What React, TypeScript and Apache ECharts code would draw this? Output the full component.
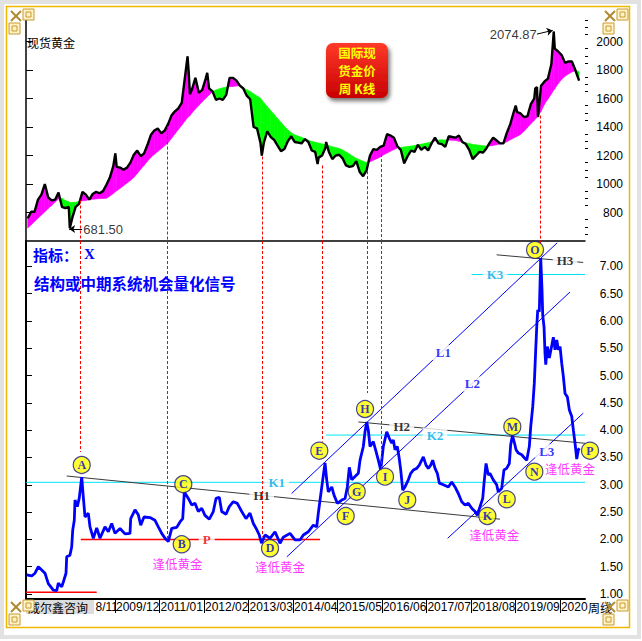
import React, { useEffect, useRef } from "react";
import * as echarts from "echarts";

// x positions are months since 2007-10-01 (weekly chart, 2007/10 .. 2021/03)
const priceMonth = [0.5,1.5,2.5,3.5,4.5,5.5,6.5,7.5,8.5,9.5,10.5,11.5,12.5,12.8,13.5,14.5,15.5,16.5,17.5,18.5,19.5,20.5,21.5,22.5,23.5,24.5,25.5,26.1,26.5,27.5,28.5,29.5,30.5,31.5,32.5,33.5,34.5,35.5,36.5,37.5,38.5,39.5,40.5,41.5,42.5,43.5,44.5,45.5,46.5,47.2,47.5,47.9,48.5,49.5,50.5,51.5,52.5,52.95,53.5,54.5,55.5,56.5,57.5,58.5,59.5,60.5,61.5,62.5,63.5,64.5,65.5,66.5,67.5,68.5,68.9,69.5,70.5,71.5,72.5,73.5,74.5,75.5,76.5,77.5,78.5,79.5,80.5,81.5,82.5,83.5,84.5,85.2,85.5,86.5,87.5,87.7,88.5,89.5,90.5,91.5,92.5,93.5,94.5,95.5,96.5,97.5,98.5,99.5,100.5,101.5,102.5,103.5,104.5,105.5,106.5,107.5,108.5,109.5,110.5,111.5,112.5,113.5,114.5,115.5,116.5,117.5,118.5,119.5,120.5,121.5,122.5,123.5,124.5,125.5,126.5,127.5,128.5,129.5,130.5,131.5,132.5,133.5,134.5,135.5,136.5,137.5,138.5,139.5,140.5,141.5,142.5,143.1,143.5,144.5,145.5,146.5,147.5,148.5,148.8,149.3,149.6,150.5,151.5,152.5,153.5,154.2,154.5,155.5,156.5,157.5,158.5,159.5,160.5,161.6];
const priceValue = [760,805,805,890,925,1000,905,885,890,940,840,830,840,690,760,840,860,945,925,890,930,945,935,950,995,1045,1125,1215,1120,1115,1100,1115,1150,1205,1235,1195,1215,1275,1345,1375,1390,1355,1375,1420,1480,1510,1530,1570,1760,1895,1800,1630,1665,1745,1640,1660,1740,1780,1670,1650,1590,1600,1590,1625,1745,1745,1725,1690,1670,1620,1595,1400,1390,1290,1200,1290,1370,1330,1310,1270,1230,1245,1300,1335,1295,1290,1285,1315,1295,1235,1225,1140,1185,1200,1255,1295,1225,1175,1200,1205,1180,1130,1120,1125,1160,1085,1055,1095,1200,1245,1240,1260,1270,1350,1340,1325,1265,1240,1145,1195,1235,1225,1275,1240,1260,1235,1285,1325,1285,1280,1260,1335,1330,1325,1340,1295,1280,1240,1175,1200,1225,1220,1250,1290,1325,1305,1285,1285,1360,1420,1505,1550,1505,1495,1470,1475,1560,1600,1670,1680,1470,1690,1720,1740,1840,2070,1950,1930,1905,1850,1860,1860,1800,1725];
const maValue = [691,714,737,760,782,805,828,850,873,895,900,885,875,870,870,872,878,882,885,890,893,895,898,899,900,915,933,945,952,970,988,1007,1025,1046,1074,1103,1131,1160,1188,1208,1228,1248,1268,1289,1320,1351,1382,1413,1444,1465,1473,1480,1500,1526,1552,1578,1601,1612,1625,1648,1660,1668,1675,1680,1683,1685,1688,1690,1676,1662,1650,1634,1618,1603,1590,1570,1543,1515,1487,1460,1433,1406,1380,1360,1345,1336,1328,1318,1307,1298,1293,1289,1288,1282,1276,1275,1269,1262,1256,1249,1240,1225,1211,1195,1180,1170,1160,1151,1156,1167,1178,1190,1205,1217,1230,1242,1253,1257,1260,1263,1266,1270,1275,1280,1284,1290,1296,1302,1308,1310,1309,1308,1307,1305,1300,1295,1290,1284,1278,1275,1272,1269,1266,1267,1271,1276,1281,1287,1296,1310,1322,1330,1335,1348,1370,1396,1422,1448,1455,1468,1476,1510,1560,1596,1632,1660,1668,1705,1733,1757,1772,1786,1795,1790];

const xMonth = [0.2,1.67,2.63,3.59,4.59,5.55,6.52,7.98,8.97,9.44,10.43,10.9,11.69,11.89,12.83,13.35,13.65,14.11,14.32,14.99,15.57,16.28,16.74,17.24,18.2,18.7,19.67,20.66,21.62,23.08,24.05,25.04,26.01,27.47,28.93,30.39,30.59,31.85,32.81,33.52,34.48,36.23,37.69,38.66,39.65,40.62,41.58,42.58,44.04,45.0,45.79,46.26,47.43,48.42,49.38,50.35,51.34,52.3,53.56,54.73,55.52,56.48,57.18,58.44,59.4,60.57,61.74,63.03,64.28,65.45,66.42,67.41,68.17,68.81,69.84,71.3,72.76,74.22,75.18,77.14,78.6,80.06,81.03,82.49,83.95,84.94,85.41,85.91,86.7,87.37,87.86,88.33,89.33,90.0,90.97,92.25,93.22,93.89,94.47,95.18,96.14,97.1,97.6,98.56,99.06,99.55,100.02,100.52,101.48,102.27,102.94,103.64,104.4,105.4,106.16,106.86,107.33,107.82,108.49,108.99,109.49,110.07,110.74,111.71,112.41,113.17,114.16,114.92,115.62,116.09,116.88,117.55,118.25,118.84,119.51,120.18,120.77,121.94,123.4,124.39,125.35,126.32,127.31,128.28,129.24,130.24,131.2,131.87,132.66,133.45,133.83,134.42,135.08,135.56,136.53,137.52,137.99,138.98,139.65,140.44,141.22,141.61,142.14,142.74,143.18,143.85,144.84,145.8,146.3,147.06,147.47,148.06,148.52,148.93,149.23,149.52,149.98,150.39,150.77,150.98,151.36,151.65,151.86,152.33,152.91,153.62,154.08,154.58,155.08,155.55,156.04,156.54,157.01,157.5,158.17,158.76,159.46,159.93,160.42,160.92,161.39,161.68];
const xValue = [1.35,1.33,1.38,1.5,1.44,1.38,1.19,1.07,1.06,1.2,1.13,1.22,1.38,1.68,1.71,1.86,2.17,2.35,2.72,2.6,2.76,3.14,2.78,2.41,2.48,2.23,2.02,2.21,2.02,2.23,2.14,2.29,2.11,2.2,2.1,2.11,2.38,2.54,2.45,2.26,2.41,2.4,2.35,2.23,2.11,2.02,1.96,2.2,2.22,2.32,2.38,2.87,2.75,2.63,2.66,2.51,2.57,2.44,2.37,2.51,2.75,2.77,2.51,2.46,2.6,2.69,2.66,2.51,2.38,2.48,2.29,2.18,2.08,1.93,2.08,2.02,2.14,1.93,2.04,2.11,1.99,1.99,2.08,2.14,2.26,2.23,2.48,2.72,3.09,3.4,3.09,2.87,2.96,2.81,2.66,2.72,2.75,2.96,3.32,3.09,3.15,3.21,3.45,3.7,3.97,4.15,4.0,3.7,3.79,3.61,3.45,3.27,3.7,3.97,3.85,3.76,3.82,3.64,3.7,3.51,3.27,2.9,2.96,3.09,3.21,3.27,3.3,3.36,3.45,3.51,3.36,3.3,3.36,3.45,3.3,3.21,3.03,3.0,2.96,3.05,2.96,2.84,2.69,2.63,2.66,2.57,2.51,2.44,2.6,2.75,3.03,3.39,3.18,3.21,3.09,3.0,2.87,2.93,3.27,3.3,3.39,3.73,3.9,3.76,3.64,3.58,3.55,3.48,3.45,3.7,4.06,4.43,4.86,5.47,5.89,6.2,6.17,7.15,6.57,6.1,5.89,5.4,5.2,5.53,5.32,5.55,5.7,5.47,5.65,5.47,5.53,5.22,4.98,4.67,4.61,4.37,4.25,4.0,3.76,3.47,3.64,3.67];

const topTicks = [800, 1000, 1200, 1400, 1600, 1800, 2000];
const topMinorTicks = [650,700,750,850,900,950,1050,1100,1150,1250,1300,1350,1450,1500,1550,1650,1700,1750,1850,1900,1950,2050,2100,2150];
const bottomTicks = [1, 1.5, 2, 2.5, 3, 3.5, 4, 4.5, 5, 5.5, 6, 6.5, 7];

const redLineMonth = [15.78, 41.29, 69.05, 86.58, 99.73, 103.73, 150.31];
const redLineTopPrice = [884, 1403, 1193, 1130, 1090, 1210, 1480];
const redLineBottomValue = [3.6, 2.0, 2.05, 3.79, 4.68, 3.25, 7.39];

const markerNames = ["A","B","C","D","E","F","G","H","I","J","K","L","M","N","O","P"];
const markerMonth = [16.28,45.5,45.96,71.3,85.7,93.42,96.63,99.06,104.9,111.4,134.8,140.46,142.1,148.53,148.73,164.8];
const markerValue = [3.362,1.91,3.01,1.837,3.624,2.428,2.873,4.387,3.148,2.721,2.428,2.734,4.063,3.24,7.3,3.624];

const trendNames = ["K1","K2","K3","H1","H2","H3","L1","L2","L3","P","base"];
const trendFrom = [[0,3.045],[87.7,3.91],[130.2,6.85],[11.9,3.16],[97.1,4.15],[137.5,7.21],[77.6,2.84],[76.2,1.68],[123.2,2.02],[16.0,2.0],[0,1.03]];
const trendTo = [[163.33,3.045],[163.33,3.91],[163.33,6.85],[138.5,2.37],[163.33,3.76],[162.8,7.07],[155.2,7.43],[158.96,6.53],[162.8,4.31],[85.9,2.0],[20.66,1.03]];
const trendLabelMonth = [73.26,119.5,137.04,68.87,109.78,157.5,121.93,130.41,152.15,52.8];
const trendLabelValue = [3.045,3.91,6.85,2.8,4.06,7.115,5.42,4.845,3.605,2.0];

const noteText = "逢低黄金";
const noteMonth = [44.27, 74.22, 136.84, 158.96];
const noteValue = [1.56, 1.5, 2.09, 3.29];

const buttonLines = ["国际现", "货金价", "周 K线"];

const extremeText = ["2074.87", "681.50"];
const extremeLabelPos = [[149.23, 2052], [16.74, 684]];
const extremeArrowFrom = [[149.3, 2052], [16.4, 684]];
const extremeArrowTo = [[153.9, 2078], [12.6, 684]];

const X_MAX = 163.33;

function trendColor(n: string) {
  if (n[0] === "K") return "#00e4f4";
  if (n[0] === "H") return "#3a3a3a";
  if (n[0] === "L") return "#0000ff";
  return "#ff0000";
}
function trendTextColor(n: string) {
  if (n[0] === "K") return "#00a8e8";
  if (n[0] === "H") return "#000000";
  if (n[0] === "L") return "#0000ff";
  return "#ee0000";
}

function ornament(x: number, y: number, flip: boolean) {
  const st = { fill: "#fff3c8", stroke: "#c89a30", lineWidth: 1 };
  const a = flip ? [x + 14, y] : [x, y + 14];
  const b = flip ? [x, y + 14] : [x + 14, y];
  return [
    { type: "rect", z: 110, shape: { x: a[0], y: a[1], width: 11, height: 11 }, style: st },
    { type: "rect", z: 110, shape: { x: a[0] + 3, y: a[1] + 3, width: 5, height: 5 }, style: { fill: "none", stroke: "#c89a30", lineWidth: 1 } },
    { type: "rect", z: 110, shape: { x: b[0], y: b[1], width: 11, height: 11 }, style: st },
    { type: "rect", z: 110, shape: { x: b[0] + 3, y: b[1] + 3, width: 5, height: 5 }, style: { fill: "none", stroke: "#c89a30", lineWidth: 1 } },
    { type: "line", z: 110, shape: { x1: x + 2, y1: y + 2, x2: x + 12, y2: y + 12 }, style: { stroke: "#b08a30", lineWidth: 2 } },
    { type: "line", z: 110, shape: { x1: x + 12, y1: y + 2, x2: x + 2, y2: y + 12 }, style: { stroke: "#b08a30", lineWidth: 2 } },
  ];
}

const MAGENTA = "#ff00ff";
const GREEN = "#00ff00";

function bandRenderItem(params: any, api: any) {
  const i = params.dataIndex;
  if (i >= priceMonth.length - 1) return null;
  const m0 = priceMonth[i], m1 = priceMonth[i + 1];
  const p0 = priceValue[i], p1 = priceValue[i + 1];
  const a0 = maValue[i], a1 = maValue[i + 1];
  const d0 = p0 - a0, d1 = p1 - a1;
  const poly = (pts: number[][], color: string) => ({
    type: "polygon",
    shape: { points: pts.map((p) => api.coord(p)) },
    style: { fill: color, stroke: color, lineWidth: 0.6 },
  });
  if (d0 * d1 >= 0) {
    return poly([[m0, p0], [m1, p1], [m1, a1], [m0, a0]], d0 + d1 >= 0 ? MAGENTA : GREEN);
  }
  const t = d0 / (d0 - d1);
  const mc = m0 + t * (m1 - m0);
  const vc = p0 + t * (p1 - p0);
  return {
    type: "group",
    children: [
      poly([[m0, p0], [mc, vc], [m0, a0]], d0 > 0 ? MAGENTA : GREEN),
      poly([[mc, vc], [m1, p1], [m1, a1]], d1 > 0 ? MAGENTA : GREEN),
    ],
  };
}

export default function App() {
  const ref = useRef<HTMLDivElement>(null);
  useEffect(() => {
    const chart = echarts.init(ref.current!, null, { renderer: "svg" });
    const band = priceMonth.map((m, i) => [m, priceValue[i], maValue[i]]);
    const price = priceMonth.map((m, i) => [m, priceValue[i]]);
    const indicator = xMonth.map((m, i) => [m, xValue[i]]);

    const redDash = { color: "#ff0000", width: 1, type: [3, 2] as any };
    const topMarks: any[] = redLineMonth.map((m, i) => [
      { coord: [m, redLineTopPrice[i]], lineStyle: redDash, symbol: "none" },
      { coord: [m, 600], symbol: "none" },
    ]);
    extremeText.forEach((_, i) => {
      topMarks.push([
        { coord: extremeArrowFrom[i], symbol: "none", lineStyle: { color: "#000", width: 1, type: "solid" } },
        { coord: extremeArrowTo[i], symbol: "arrow", symbolSize: 6 },
      ]);
    });
    const bottomMarks: any[] = redLineMonth.map((m, i) => [
      { coord: [m, 7.463], lineStyle: redDash, symbol: "none" },
      { coord: [m, redLineBottomValue[i]], symbol: "none" },
    ]);

    const trendSeries = trendNames.map((n, i) => ({
      type: "line",
      xAxisIndex: 1,
      yAxisIndex: 2,
      data: [trendFrom[i], trendTo[i]],
      symbol: "none",
      silent: true,
      z: 2,
      lineStyle: {
        color: trendColor(n),
        width: n === "P" || n === "base" ? 1.5 : 1,
      },
    }));

    const font = "Liberation Sans, Arial, sans-serif";
    const cjk = "Noto Sans CJK SC, sans-serif";
    const serif = "Liberation Serif, Times New Roman, serif";

    const option: any = {
      animation: false,
      backgroundColor: "#ffffff",
      grid: [
        { left: 26, right: 57, top: 14, height: 227, outerBoundsMode: "none" },
        { left: 26, right: 57, top: 241, height: 358, outerBoundsMode: "none" },
      ],
      xAxis: [
        {
          type: "value", gridIndex: 0, min: 0, max: X_MAX, interval: 13,
          axisLine: { show: true, lineStyle: { color: "#000", width: 1.5 } },
          axisTick: { show: false }, axisLabel: { show: false }, splitLine: { show: false },
        },
        {
          type: "value", gridIndex: 1, min: 0, max: X_MAX, interval: 13,
          axisLine: { show: true, lineStyle: { color: "#000", width: 2 } },
          axisTick: { show: true, length: 14, lineStyle: { color: "#000", width: 1 } },
          splitLine: { show: false },
          axisLabel: {
            show: true, showMaxLabel: false, showMinLabel: false, align: "left", verticalAlign: "top", margin: 2,
            fontSize: 12, color: "#000", fontFamily: font, padding: [0, 0, 0, 1],
            formatter: (v: number) => {
              const t = Math.round(v) + 9;
              const y = 2007 + Math.floor(t / 12);
              const mo = (t % 12) + 1;
              const s = `${y}/${mo < 10 ? "0" + mo : mo}`;
              if (Math.round(v) === 13) return "{off|}" + s.slice(3);
              if (Math.round(v) === 156) return String(y);
              return s;
            },
            rich: { off: { width: 24, height: 10 } },
          },
        },
      ],
      yAxis: [
        {
          type: "value", gridIndex: 0, position: "right", min: 600, max: 2193,
          axisLine: { show: true, lineStyle: { color: "#000", width: 1.5 } },
          axisTick: { show: true, length: 7, customValues: topTicks, lineStyle: { color: "#000" } },
          axisLabel: {
            show: true, customValues: topTicks, align: "right", margin: 38, fontSize: 12, color: "#000", fontFamily: font,
            formatter: (v: number) => String(v),
          },
          splitLine: { show: false },
        },
        {
          type: "value", gridIndex: 0, position: "right", min: 600, max: 2193,
          axisLine: { show: false },
          axisTick: { show: true, length: 3, customValues: topMinorTicks, lineStyle: { color: "#000" } },
          axisLabel: { show: false },
          splitLine: { show: false },
        },
        {
          type: "value", gridIndex: 1, position: "right", min: 0.9085, max: 7.463,
          axisLine: { show: true, lineStyle: { color: "#000", width: 2 } },
          axisTick: { show: true, length: 6, customValues: bottomTicks, lineStyle: { color: "#000" } },
          axisLabel: {
            show: true, customValues: bottomTicks, align: "right", margin: 38, fontSize: 12, color: "#000", fontFamily: font,
            formatter: (v: number) => v.toFixed(2),
          },
          splitLine: { show: false },
        },
      ],
      series: [
        {
          type: "custom", xAxisIndex: 0, yAxisIndex: 0, data: band, silent: true, z: 1,
          encode: { x: 0, y: [1, 2] },
          renderItem: bandRenderItem,
        },
        {
          type: "line", xAxisIndex: 0, yAxisIndex: 0, data: price, symbol: "none", silent: true, z: 3,
          lineStyle: { color: "#000", width: 2.4 },
          markLine: { silent: true, symbol: "none", label: { show: false }, data: topMarks },
        },
        {
          type: "scatter", xAxisIndex: 0, yAxisIndex: 0, symbolSize: 1, clip: false, silent: true, z: 5,
          itemStyle: { color: "rgba(0,0,0,0)" },
          data: extremeText.map((t, i) => ({
            value: extremeLabelPos[i], name: t,
            label: { align: i === 0 ? "right" : "left" },
          })),
          label: { show: true, position: "inside", formatter: "{b}", color: "#000", fontSize: 13, fontFamily: font, verticalAlign: "middle" },
        },
        ...trendSeries,
        {
          type: "line", xAxisIndex: 1, yAxisIndex: 2, data: indicator, symbol: "none", silent: true, z: 3,
          lineStyle: { color: "#0000ff", width: 2.8 },
          markLine: { silent: true, symbol: "none", label: { show: false }, data: bottomMarks },
        },
        {
          type: "scatter", xAxisIndex: 1, yAxisIndex: 2, symbolSize: 1, clip: false, silent: true, z: 4,
          itemStyle: { color: "rgba(0,0,0,0)" },
          data: trendLabelMonth.map((m, i) => ({
            value: [m, trendLabelValue[i]], name: trendNames[i],
            label: { color: trendTextColor(trendNames[i]) },
          })),
          label: {
            show: true, position: "inside", formatter: "{b}", fontSize: 13, fontWeight: "bold", fontFamily: serif,
            backgroundColor: "#ffffff", padding: [1, 4],
          },
        },
        {
          type: "scatter", xAxisIndex: 1, yAxisIndex: 2, symbolSize: 1, clip: false, silent: true, z: 4,
          itemStyle: { color: "rgba(0,0,0,0)" },
          data: noteMonth.map((m, i) => ({ value: [m, noteValue[i]], name: noteText })),
          label: { show: true, position: "inside", formatter: "{b}", fontSize: 12.5, color: "#ff00ff", fontFamily: cjk },
        },
        {
          type: "scatter", xAxisIndex: 1, yAxisIndex: 2, symbol: "circle", symbolSize: 17, clip: false, silent: true, z: 6,
          itemStyle: { color: "#ffff00", borderColor: "#1a1a80", borderWidth: 1.2 },
          data: markerMonth.map((m, i) => ({ value: [m, markerValue[i]], name: markerNames[i] })),
          label: { show: true, position: "inside", formatter: "{b}", fontSize: 12, fontWeight: "bold", color: "#0000cc", fontFamily: serif },
        },
      ],
      graphic: [
        { type: "rect", z: 100, silent: true, shape: { x: 2, y: 2, width: 637, height: 635 }, style: { fill: "none", stroke: "#e2e2e2", lineWidth: 4 } },
        { type: "rect", z: 100, silent: true, shape: { x: 6.5, y: 6.5, width: 623, height: 621 }, style: { fill: "none", stroke: "#f2b800", lineWidth: 1.5 } },
        ...ornament(9, 9, false),
        ...ornament(603, 9, true),
        ...ornament(9, 600, true),
        ...ornament(603, 600, false),
        { type: "text", z: 100, silent: true, style: { x: 27, y: 42, text: "现货黄金", fill: "#000", font: `12px ${cjk}`, verticalAlign: "middle" } },
        {
          type: "rect", z: 100, silent: true,
          shape: { x: 326, y: 43, width: 62, height: 55, r: 7 },
          style: {
            fill: new echarts.graphic.LinearGradient(0, 0, 0, 1, [
              { offset: 0, color: "#ff3a2a" },
              { offset: 1, color: "#c80000" },
            ]),
            shadowBlur: 4, shadowColor: "rgba(0,0,0,0.55)", shadowOffsetX: 2, shadowOffsetY: 3,
          },
        },
        ...buttonLines.map((t, i) => ({
          type: "text", z: 101, silent: true,
          style: {
            x: 357, y: 52.8 + i * 17.7, text: t, fill: "#ffff00",
            font: `bold 12.5px ${cjk}`, align: "center", verticalAlign: "middle",
          },
        })),
        { type: "text", z: 100, silent: true, style: { x: 33, y: 254, text: "指标：", fill: "#0000ff", font: `bold 15px ${cjk}`, verticalAlign: "middle" } },
        { type: "text", z: 100, silent: true, style: { x: 84, y: 254, text: "X", fill: "#0000ff", font: `bold 15px ${serif}`, verticalAlign: "middle" } },
        { type: "text", z: 100, silent: true, style: { x: 34, y: 283, text: "结构或中期系统机会量化信号", fill: "#0000ff", font: `bold 15.5px ${cjk}`, verticalAlign: "middle" } },
        { type: "rect", z: 100, silent: true, shape: { x: 26, y: 600, width: 68, height: 14 }, style: { fill: "#dcdcdc" } },
        { type: "text", z: 101, silent: true, style: { x: 28, y: 607, text: "威尔鑫咨询", fill: "#000", font: `12px ${cjk}`, verticalAlign: "middle" } },
        { type: "text", z: 101, silent: true, style: { x: 588, y: 607, text: "周线", fill: "#000", font: `12px ${cjk}`, verticalAlign: "middle" } },
      ],
    };
    chart.setOption(option);
    return () => chart.dispose();
  }, []);
  return <div ref={ref} style={{ position: "fixed", left: 0, top: 0, width: 642, height: 641 }} />;
}
